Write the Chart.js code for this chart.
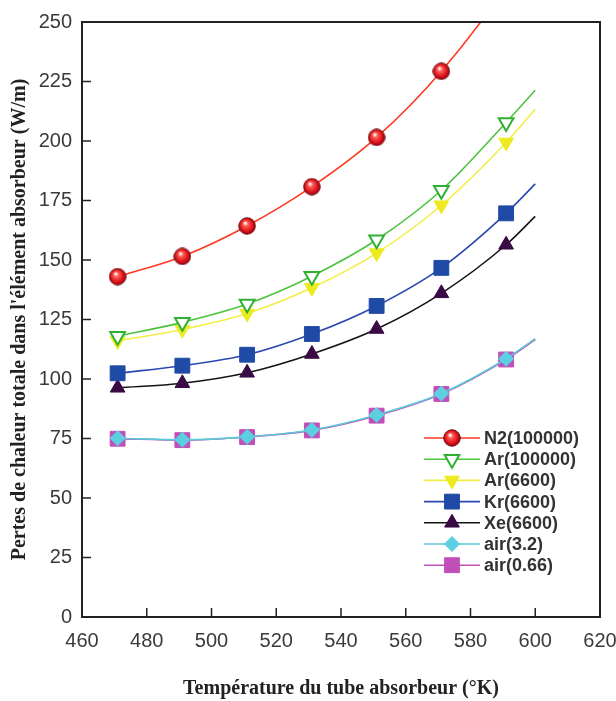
<!DOCTYPE html>
<html>
<head>
<meta charset="utf-8">
<script src="https://cdn.jsdelivr.net/npm/chart.js"></script>
<style>
  body { margin: 0; background: #fff; }
</style>
</head>
<body>
<canvas id="chart" width="616" height="701"></canvas>
<script>
// temperatures of the markers, plus the end of the fitted curves
var temps = [471, 491, 511, 531, 551, 571, 591];
var tempEnd = 600;

var seriesLabels = ['N2(100000)', 'Ar(100000)', 'Ar(6600)', 'Kr(6600)', 'Xe(6600)', 'air(3.2)', 'air(0.66)'];

var n2     = [143, 151.5, 164.3, 180.8, 201.5, 229.3, 265];
var ar1e5  = [118, 123.8, 131.5, 143.2, 158.5, 179.3, 207.8];
var ar6600 = [116, 120.8, 127.5, 138.3, 152.9, 173, 199.4];
var kr6600 = [102.4, 105.6, 110.2, 118.9, 130.7, 146.7, 169.6];
var xe6600 = [96.3, 98.2, 102.6, 110.5, 121, 136, 156.4];
var air32  = [75.1, 74.5, 75.7, 78.6, 84.9, 93.9, 108.5];
var air066 = [74.9, 74.3, 75.6, 78.4, 84.6, 93.7, 108.2];

// values of the fitted curves at 600 K
var endValues = [285, 221.3, 213.3, 182, 168.3, 117, 116.6];

var xTicks = { min: 460, max: 620, step: 20 };
var yTicks = { min: 0, max: 250, step: 25 };

// red shaded sphere marker
function sphere() {
  var c = document.createElement('canvas');
  c.width = 18; c.height = 18;
  var g = c.getContext('2d');
  var grad = g.createRadialGradient(7, 6, 0.5, 9, 9, 9);
  grad.addColorStop(0, '#ffffff');
  grad.addColorStop(0.25, '#ff5a50');
  grad.addColorStop(0.7, '#d8101a');
  grad.addColorStop(1, '#7a0008');
  g.fillStyle = grad;
  g.beginPath(); g.arc(9, 9, 8.3, 0, Math.PI * 2); g.fill();
  g.strokeStyle = '#6a0008'; g.lineWidth = 0.8; g.stroke();
  return c;
}

var styles = [
  { line: '#ff3a22', fill: '#d8101a', border: '#6a0008', shape: sphere(), r: 8, rot: 0, bw: 0 },
  { line: '#4cc43c', fill: '#ffffff', border: '#30b030', shape: 'triangle', r: 8.5, rot: 180, bw: 2 },
  { line: '#f2ee48', fill: '#eeea20', border: '#eeea20', shape: 'triangle', r: 8.5, rot: 180, bw: 1 },
  { line: '#2a48b0', fill: '#1f4aa6', border: '#1f4aa6', shape: 'rect', r: 10.5, rot: 0, bw: 1 },
  { line: '#151515', fill: '#3a0a45', border: '#3a0a45', shape: 'triangle', r: 8.5, rot: 0, bw: 1 },
  { line: '#5cc8d8', fill: '#5ccfe0', border: '#5ccfe0', shape: 'rectRot', r: 7.5, rot: 0, bw: 1 },
  { line: '#c050b8', fill: '#c04fb8', border: '#c04fb8', shape: 'rect', r: 10.5, rot: 0, bw: 1 }
];

var values = [n2, ar1e5, ar6600, kr6600, xe6600, air32, air066];

var datasets = values.map(function (vals, i) {
  var s = styles[i];
  var pts = temps.map(function (t, k) { return { x: t, y: vals[k] }; });
  pts.push({ x: tempEnd, y: endValues[i] });
  var radii = temps.map(function () { return s.r; });
  radii.push(0);
  return {
    label: seriesLabels[i],
    data: pts,
    borderColor: s.line,
    borderWidth: 1.6,
    pointStyle: s.shape,
    pointRadius: radii,
    pointRotation: s.rot,
    pointBackgroundColor: s.fill,
    pointBorderColor: s.border,
    pointBorderWidth: s.bw,
    cubicInterpolationMode: 'monotone',
    fill: false
  };
});

// frame around plot area, inward tick marks and legend inside the plot
var frame = {
  id: 'frame',
  afterDatasetsDraw: function (chart) {
    var ctx = chart.ctx, a = chart.chartArea;
    var xs = chart.scales.x, ys = chart.scales.y;
    ctx.save();
    ctx.strokeStyle = '#222';
    ctx.lineWidth = 1.5;
    ctx.beginPath();
    xs.ticks.forEach(function (t) {
      var px = xs.getPixelForValue(t.value);
      ctx.moveTo(px, a.bottom); ctx.lineTo(px, a.bottom - 9);
    });
    ys.ticks.forEach(function (t) {
      var py = ys.getPixelForValue(t.value);
      ctx.moveTo(a.left, py); ctx.lineTo(a.left + 9, py);
    });
    ctx.stroke();
    ctx.lineWidth = 2;
    ctx.strokeRect(a.left, a.top, a.right - a.left, a.bottom - a.top);

    var x0 = a.right - 176, y0 = a.bottom - 179;
    chart.data.datasets.forEach(function (ds, i) {
      var s = styles[i];
      var y = y0 + i * 21.2;
      ctx.strokeStyle = ds.borderColor;
      ctx.lineWidth = ds.borderWidth;
      ctx.beginPath(); ctx.moveTo(x0, y); ctx.lineTo(x0 + 56, y); ctx.stroke();
      ctx.fillStyle = s.fill;
      ctx.strokeStyle = s.border;
      ctx.lineWidth = s.bw;
      Chart.helpers.drawPoint(ctx, { pointStyle: s.shape, radius: s.r, rotation: s.rot, borderWidth: s.bw }, x0 + 28, y);
      ctx.fillStyle = '#333';
      ctx.font = 'bold 18px "Liberation Sans", Arial, sans-serif';
      ctx.textBaseline = 'middle';
      ctx.textAlign = 'left';
      ctx.fillText(ds.label, x0 + 60, y + 1);
    });
    ctx.restore();
  }
};

new Chart(document.getElementById('chart'), {
  type: 'line',
  data: { datasets: datasets },
  options: {
    responsive: false,
    animation: false,
    layout: { padding: { top: 17, right: 0, left: 0, bottom: 0 } },
    plugins: { legend: { display: false }, tooltip: { enabled: false } },
    scales: {
      x: {
        type: 'linear',
        min: xTicks.min, max: xTicks.max,
        afterFit: function (s) { s.height = 84; s.paddingRight = 16; s.paddingLeft = 0; },
        grid: { display: false, drawTicks: false },
        border: { display: false },
        ticks: {
          stepSize: xTicks.step, maxRotation: 0, autoSkip: false, padding: 12,
          color: '#3a3a3a', font: { family: '"Liberation Sans", Arial, sans-serif', size: 20 }
        },
        title: {
          display: true,
          text: 'Température du tube absorbeur (°K)',
          color: '#222',
          padding: { top: 0, bottom: 0 },
          font: { family: '"Liberation Serif", "Times New Roman", serif', size: 20, weight: 'bold' }
        }
      },
      y: {
        min: yTicks.min, max: yTicks.max,
        afterFit: function (s) { s.width = 82; },
        grid: { display: false, drawTicks: false },
        border: { display: false },
        ticks: {
          stepSize: yTicks.step, padding: 10,
          color: '#3a3a3a', font: { family: '"Liberation Sans", Arial, sans-serif', size: 20 }
        },
        title: {
          display: true,
          text: "Pertes de chaleur totale dans l'élément absorbeur (W/m)",
          color: '#222',
          padding: { top: 8, bottom: 0 },
          font: { family: '"Liberation Serif", "Times New Roman", serif', size: 20, weight: 'bold' }
        }
      }
    }
  },
  plugins: [frame]
});
</script>
</body>
</html>
